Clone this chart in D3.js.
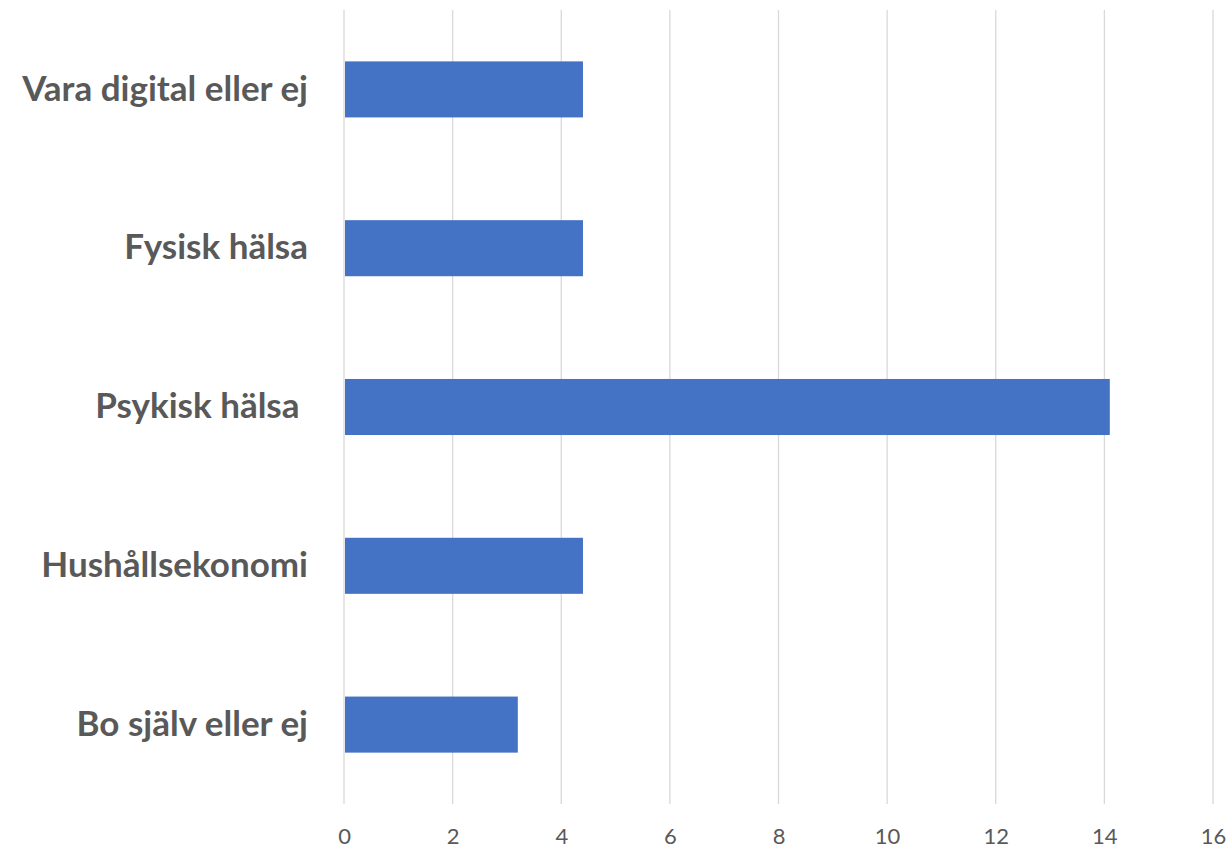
<!DOCTYPE html>
<html>
<head>
<meta charset="utf-8">
<script src="https://cdn.jsdelivr.net/npm/d3@7"></script>
<style>
  body { margin: 0; background: #fff; }
  svg { display: block; }
  .cat text { white-space: pre; }
</style>
</head>
<body>
<svg width="1230" height="849"></svg>
<script>
// data, top to bottom as in the chart
const categories = ['Vara digital eller ej', 'Fysisk hälsa', 'Psykisk hälsa ', 'Hushållsekonomi', 'Bo själv eller ej'];
const values = [4.4, 4.4, 14.1, 4.4, 3.2];
const xTicks = [0, 2, 4, 6, 8, 10, 12, 14, 16];

const glue = { left: 344, right: 17, top: 10, bottom: 45 };
const width = 1230 - glue.left - glue.right;
const height = 849 - glue.top - glue.bottom;

const svg = d3.select('svg');
const g = svg.append('g')
  .attr('transform', 'translate(' + glue.left + ',' + glue.top + ')');

const x = d3.scaleLinear()
  .domain([0, 16])
  .range([0, width]);
const y = d3.scaleBand()
  .domain(categories)
  .range([0, height])
  .paddingInner(0.647)
  .paddingOuter(0.647 / 2);

// vertical gridlines
g.append('g')
  .selectAll('line')
  .data(xTicks)
  .enter()
  .append('line')
  .attr('x1', d => x(d))
  .attr('x2', d => x(d))
  .attr('y1', 0)
  .attr('y2', height)
  .attr('stroke', '#d9d9d9')
  .attr('stroke-width', 1.3);

// bars
g.selectAll('rect.bar')
  .data(categories)
  .enter()
  .append('rect')
  .attr('class', 'bar')
  .attr('x', x(0) + 1)
  .attr('y', d => y(d))
  .attr('width', (d, i) => x(values[i]) - x(0) - 1)
  .attr('height', y.bandwidth())
  .attr('fill', '#4472c4');

// x axis labels
const xAxis = d3.axisBottom(x).tickValues(xTicks).tickSize(0).tickPadding(24);
g.append('g')
  .attr('transform', 'translate(0,' + height + ')')
  .call(xAxis)
  .call(a => a.select('.domain').remove())
  .selectAll('text')
  .attr('fill', '#595959')
  .style('font-family', 'Lato, sans-serif')
  .style('font-size', '22px');

// category labels
const yAxis = d3.axisLeft(y).tickSize(0).tickPadding(36);
g.append('g')
  .attr('class', 'cat')
  .call(yAxis)
  .call(a => a.select('.domain').remove())
  .selectAll('text')
  .attr('fill', '#595959')
  .style('font-family', 'Lato, sans-serif')
  .style('font-weight', 'bold')
  .style('font-size', '35px');
</script>
</body>
</html>
